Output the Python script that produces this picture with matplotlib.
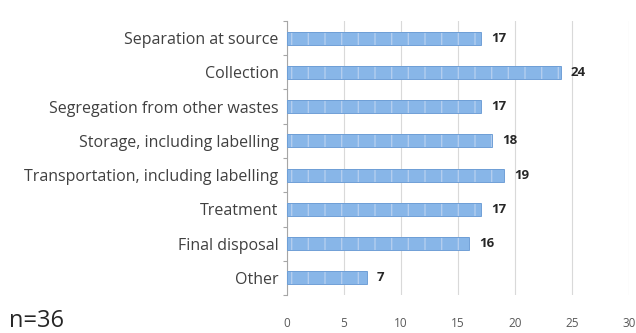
import matplotlib.pyplot as plt
from matplotlib.ticker import MultipleLocator

# categories and counts (top to bottom)
categories = ['Separation at source', 'Collection', 'Segregation from other wastes',
              'Storage, including labelling', 'Transportation, including labelling',
              'Treatment', 'Final disposal', 'Other']
counts = [17, 24, 17, 18, 19, 17, 16, 7]
x_ticks = [0, 5, 10, 15, 20, 25, 30]
n_label = 'n=36'

plt.rcParams['font.family'] = ['Open Sans', 'DejaVu Sans']

fig = plt.figure(figsize=(6.36, 3.33), dpi=100)
ax = fig.add_axes([0.451, 0.114, 0.538, 0.823])

pos = list(range(len(categories)))[::-1]
# base bar, light stripes on top, then the outline
ax.barh(pos, counts, height=0.38, color='#88b6e8', linewidth=0, zorder=3)
ax.barh(pos, counts, height=0.38, color='none', edgecolor='#b3cdee',
        linewidth=0, hatch='|', zorder=4)
ax.barh(pos, counts, height=0.38, color='none', edgecolor='#6f9fd6',
        linewidth=0.7, zorder=5)

# value labels
for p, c in zip(pos, counts):
    ax.text(c + 0.9, p, str(c), va='center', ha='left', fontsize=9.5,
            fontweight='bold', color='#262626')

ax.set_yticks(pos)
ax.set_yticklabels(categories, fontsize=11.5, color='#404040')
ax.set_ylim(-0.5, len(categories) - 0.5)
ax.set_xlim(0, 30)
ax.set_xticks(x_ticks)
ax.tick_params(axis='x', length=0, pad=16, labelsize=8.5, colors='#595959')
ax.tick_params(axis='y', length=0, pad=6)
ax.yaxis.set_minor_locator(MultipleLocator(1, offset=0.5))
ax.tick_params(axis='y', which='minor', length=3, color='#a6a6a6', width=0.8)

ax.grid(axis='x', color='#d9d9d9', linewidth=0.8, zorder=0)
for s in ['top', 'right', 'bottom']:
    ax.spines[s].set_visible(False)
ax.spines['left'].set_color('#a6a6a6')
ax.spines['left'].set_linewidth(0.8)

fig.text(0.014, 0.018, n_label, fontsize=17, color='#262626')

fig.savefig('out.png', dpi=100)
